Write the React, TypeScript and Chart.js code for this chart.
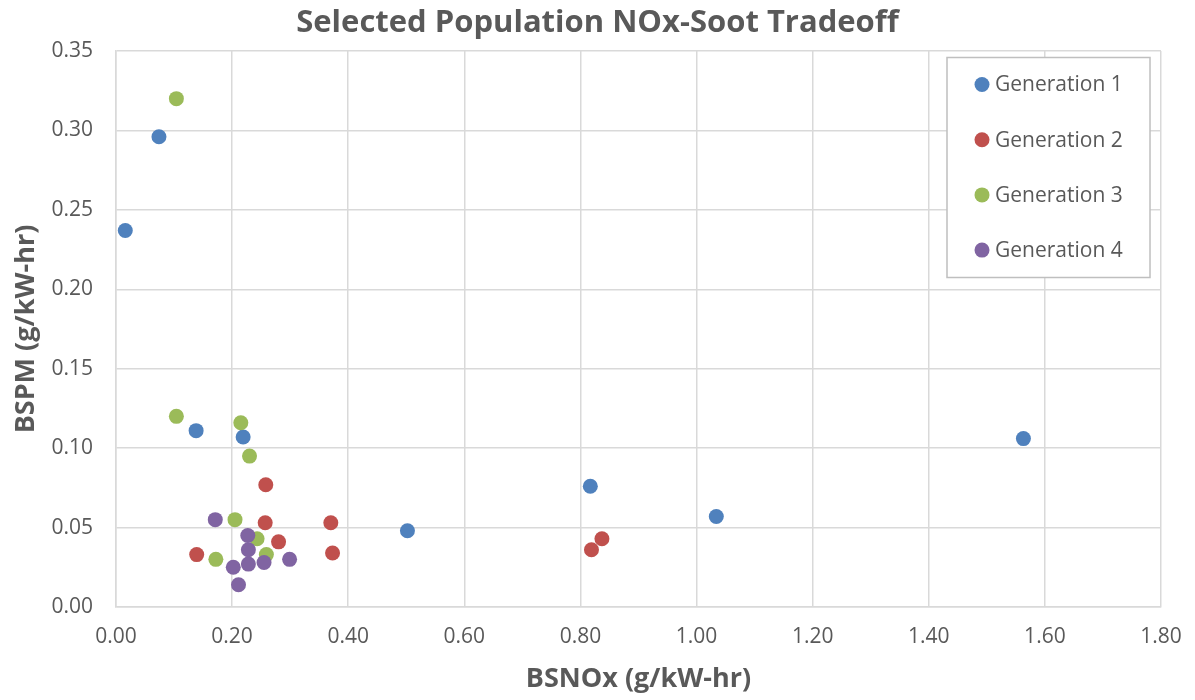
import React, { useEffect, useRef } from "react";
import { Chart, registerables } from "chart.js";

Chart.register(...registerables);

const TITLE = "Selected Population NOx-Soot Tradeoff";
const X_TITLE = "BSNOx (g/kW-hr)";
const Y_TITLE = "BSPM (g/kW-hr)";

const seriesNames = ["Generation 1", "Generation 2", "Generation 3", "Generation 4"];
const seriesColors = ["#4F81BD", "#C0504D", "#9BBB59", "#8064A2"];

const gen1X = [0.016, 0.074, 0.138, 0.219, 0.502, 0.817, 1.034, 1.563];
const gen1Y = [0.237, 0.296, 0.111, 0.107, 0.048, 0.076, 0.057, 0.106];

const gen2X = [0.139, 0.258, 0.257, 0.280, 0.370, 0.373, 0.819, 0.837];
const gen2Y = [0.033, 0.077, 0.053, 0.041, 0.053, 0.034, 0.036, 0.043];

const gen3X = [0.104, 0.104, 0.215, 0.230, 0.205, 0.243, 0.259, 0.172];
const gen3Y = [0.320, 0.120, 0.116, 0.095, 0.055, 0.043, 0.033, 0.030];

const gen4X = [0.171, 0.227, 0.228, 0.299, 0.228, 0.255, 0.202, 0.211];
const gen4Y = [0.055, 0.045, 0.036, 0.030, 0.027, 0.028, 0.025, 0.014];

const xTicks = [0, 0.2, 0.4, 0.6, 0.8, 1.0, 1.2, 1.4, 1.6, 1.8];
const yTicks = [0, 0.05, 0.1, 0.15, 0.2, 0.25, 0.3, 0.35];

const allX = [gen1X, gen2X, gen3X, gen4X];
const allY = [gen1Y, gen2Y, gen3Y, gen4Y];

const FONT = '"Open Sans", "DejaVu Sans", sans-serif';
const TEXT = "#595959";
const GRID = "#D9D9D9";

const overlay = {
  id: "overlay",
  afterDraw(chart: any) {
    const ctx = chart.ctx;
    ctx.save();
    // title
    ctx.fillStyle = TEXT;
    ctx.font = `bold 31px ${FONT}`;
    ctx.textAlign = "center";
    ctx.textBaseline = "middle";
    ctx.fillText(TITLE, chart.width / 2, 23);

    // legend box
    const bx = 947, by = 57.5, bw = 203, bh = 220;
    ctx.fillStyle = "#FFFFFF";
    ctx.fillRect(bx, by, bw, bh);
    ctx.strokeStyle = "#BFBFBF";
    ctx.lineWidth = 1.5;
    ctx.strokeRect(bx, by, bw, bh);
    ctx.font = `21px ${FONT}`;
    ctx.textAlign = "left";
    chart.data.datasets.forEach((ds: any, i: number) => {
      const cy = 84.5 + i * 55.2;
      ctx.beginPath();
      ctx.arc(982, cy, 7.5, 0, Math.PI * 2);
      ctx.fillStyle = ds.backgroundColor;
      ctx.fill();
      ctx.fillStyle = TEXT;
      ctx.fillText(ds.label, 995, cy + 1);
    });
    ctx.restore();
  },
};

export default function App() {
  const ref = useRef<HTMLCanvasElement>(null);
  useEffect(() => {
    if (!ref.current) return;
    const datasets = seriesNames.map((name, i) => ({
      label: name,
      data: allX[i].map((x, j) => ({ x, y: allY[i][j] })),
      backgroundColor: seriesColors[i],
      borderColor: seriesColors[i],
      pointRadius: 7.5,
      pointHoverRadius: 7.5,
      borderWidth: 0,
      order: seriesNames.length - i,
    }));
    const chart = new Chart(ref.current, {
      type: "scatter",
      data: { datasets },
      plugins: [overlay],
      options: {
        animation: false,
        responsive: false,
        layout: { padding: { top: 51, right: 34, left: 0, bottom: 0 } },
        plugins: {
          legend: { display: false },
          title: { display: false },
          tooltip: { enabled: false },
        },
        scales: {
          x: {
            type: "linear",
            min: 0,
            max: 1.8,
            afterFit: (s: any) => {
              s.height = 93;
              s.paddingLeft = 0;
              s.paddingRight = 0;
            },
            afterBuildTicks: (s: any) => { s.ticks = xTicks.map((v) => ({ value: v })); },
            ticks: {
              color: TEXT,
              font: { family: FONT, size: 21 },
              padding: 17,
              callback: (v: any) => Number(v).toFixed(2),
            },
            grid: { color: GRID, lineWidth: 1.5, drawTicks: false },
            border: { color: GRID, width: 1.5 },
            title: {
              display: true,
              text: X_TITLE,
              color: TEXT,
              font: { family: FONT, size: 27, weight: "bold" },
              padding: { top: 0, bottom: 4 },
            },
          },
          y: {
            type: "linear",
            min: 0,
            max: 0.35,
            afterFit: (s: any) => {
              s.width = 116;
              s.paddingTop = 0;
              s.paddingBottom = 0;
            },
            afterBuildTicks: (s: any) => { s.ticks = yTicks.map((v) => ({ value: v })); },
            ticks: {
              color: TEXT,
              font: { family: FONT, size: 21 },
              padding: 23,
              callback: (v: any) => Number(v).toFixed(2),
            },
            grid: { color: GRID, lineWidth: 1.5, drawTicks: false },
            border: { color: GRID, width: 1.5 },
            title: {
              display: true,
              text: Y_TITLE,
              color: TEXT,
              font: { family: FONT, size: 27, weight: "bold" },
              padding: { top: 10, bottom: 0 },
            },
          },
        },
      },
    });
    return () => chart.destroy();
  }, []);
  return (
    <div style={{ position: "absolute", left: 0, top: 0, width: 1195, height: 700, background: "#fff" }}>
      <canvas ref={ref} width={1195} height={700} style={{ display: "block" }} />
    </div>
  );
}
